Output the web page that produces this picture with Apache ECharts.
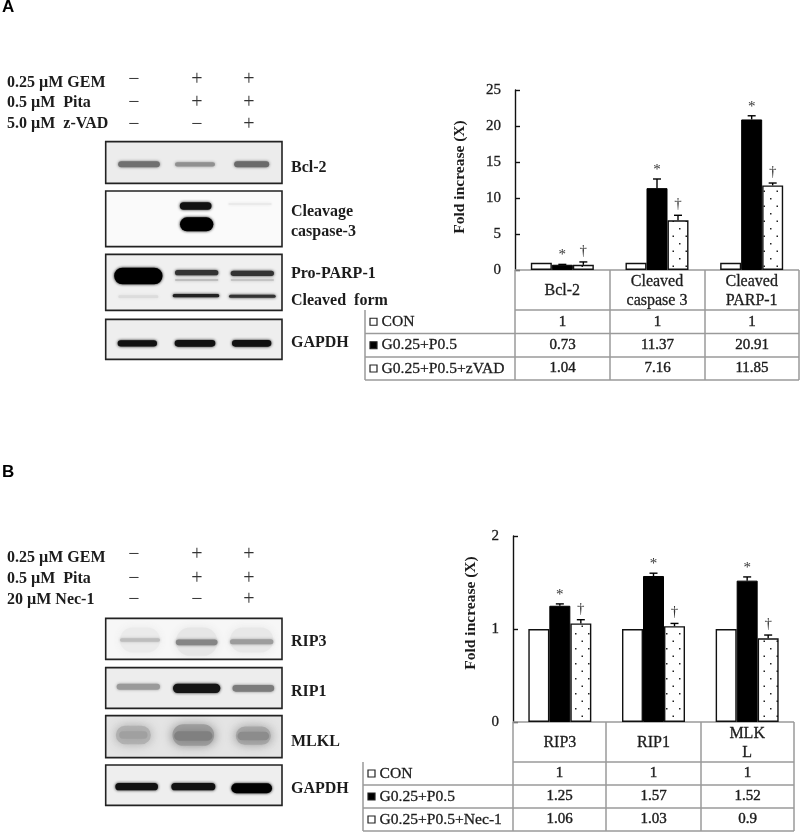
<!DOCTYPE html>
<html><head><meta charset="utf-8">
<style>html,body{margin:0;padding:0;background:#fff}#c{width:800px;height:832px}#c canvas{filter:blur(0.45px)}</style>
<script src="https://cdn.jsdelivr.net/npm/echarts@6/dist/echarts.min.js"></script>
</head><body><div id="c"></div>
<script>
// ---- data ----
const catsA = ['Bcl-2', 'Cleaved\ncaspase 3', 'Cleaved\nPARP-1'];
const conA = [1, 1, 1];
const gpA = [0.73, 11.37, 20.91];
const gpzA = [0.72, 6.9, 11.75];
const gpErrA = [0.78, 12.64, 21.42];
const gpzErrA = [1.12, 7.6, 12.08];
const tableRowsA = ['CON', 'G0.25+P0.5', 'G0.25+P0.5+zVAD'];
const tableA = [['1', '1', '1'], ['0.73', '11.37', '20.91'], ['1.04', '7.16', '11.85']];

const catsB = ['RIP3', 'RIP1', 'MLK\nL'];
const conB = [1, 1, 1];
const gpB = [1.25, 1.57, 1.52];
const gpnB = [1.06, 1.03, 0.9];
const gpErrB = [1.27, 1.6, 1.56];
const gpnErrB = [1.1, 1.06, 0.935];
const tableRowsB = ['CON', 'G0.25+P0.5', 'G0.25+P0.5+Nec-1'];
const tableB = [['1', '1', '1'], ['1.25', '1.57', '1.52'], ['1.06', '1.03', '0.9']];

const treatA = [['0.25 µM GEM', '−', '+', '+'], ['0.5 µM  Pita', '−', '+', '+'], ['5.0 µM  z-VAD', '−', '−', '+']];
const treatB = [['0.25 µM GEM', '−', '+', '+'], ['0.5 µM  Pita', '−', '+', '+'], ['20 µM Nec-1', '−', '−', '+']];

// ---- helpers ----
const SERIF = '"Liberation Serif", serif';
const INK = '#1c1c1c';
const g = [];
function text(x, y, s, size, opt) {
  opt = opt || {};
  g.push({type: 'text', x: x, y: y, silent: true, z: 5, style: {text: s, fill: opt.fill || INK,
    stroke: opt.thick ? (opt.fill || INK) : null, lineWidth: opt.thick || 0,
    font: (opt.weight || 'normal') + ' ' + size + 'px ' + (opt.family || SERIF),
    align: opt.align || 'left', verticalAlign: 'middle'}});
}
function line(x1, y1, x2, y2, color, w) {
  g.push({type: 'line', silent: true, z: 3, shape: {x1, y1, x2, y2}, style: {stroke: color, lineWidth: w}});
}
// dotted fill tile
const tile = document.createElement('canvas');
tile.width = 13; tile.height = 15;
(function () {
  const c = tile.getContext('2d');
  c.fillStyle = '#fff'; c.fillRect(0, 0, 13, 15);
  c.fillStyle = '#222';
  c.fillRect(3, 3, 1.5, 1.5); c.fillRect(9.5, 10.5, 1.5, 1.5);
})();

function blotPanel(y1, y2, bg, bands, oy) {
  // coordinates written in 3x crop units, as measured on the picture
  const X1 = 105.7, X2 = 282;
  const top = oy + y1 / 3, bottom = oy + y2 / 3;
  g.push({type: 'rect', silent: true, z: 1, shape: {x: X1, y: top, width: X2 - X1, height: bottom - top},
    style: {fill: bg, stroke: 'none'}});
  bands.forEach(b => {
    const w = b[2] / 3, h = b[3] / 3;
    g.push({type: 'rect', silent: true, z: 2,
      shape: {x: b[0] / 3 - w / 2, y: oy + b[1] / 3 - h / 2, width: w, height: h, r: Math.min(w, h) / 2},
      style: {fill: b[4], shadowBlur: b[5] === undefined ? 3 : b[5], shadowColor: b[4]}});
  });
  g.push({type: 'rect', silent: true, z: 3, shape: {x: X1, y: top, width: X2 - X1, height: bottom - top},
    style: {fill: 'none', stroke: '#222', lineWidth: 1.6}});
}
function treatments(rows, ys, signYs) {
  rows.forEach((r, i) => {
    text(7, ys[i], r[0], 16, {weight: 'bold'});
    [134, 197, 249].forEach((x, k) => text(x, signYs[i], r[k + 1], 20, {align: 'center', fill: '#333'}));
  });
}
function dataTable(x0, xs, ys, rows, vals) {
  const c = '#9a9a9a', w = 1.5;
  line(xs[0], ys[0], xs[3], ys[0], c, w);
  line(xs[0], ys[1], xs[3], ys[1], c, w);
  for (let i = 2; i < 5; i++) line(x0, ys[i], xs[3], ys[i], c, w);
  line(x0, ys[1], x0, ys[4], c, w);
  xs.forEach(x => line(x, ys[0], x, ys[4], c, w));
  rows.forEach((r, i) => {
    const cy = (ys[i + 1] + ys[i + 2]) / 2;
    g.push({type: 'rect', silent: true, z: 5, shape: {x: x0 + 5, y: cy - 3.5, width: 7, height: 7},
      style: {fill: i === 1 ? '#000' : '#fff', stroke: '#222', lineWidth: 1.2}});
    text(x0 + 16.5, cy, r, 15.6, {thick: 0.3});
    vals[i].forEach((v, k) => text((xs[k] + xs[k + 1]) / 2, cy, v, 15, {align: 'center', thick: 0.4}));
  });
}

// ---- static figure parts ----
text(2, 7, 'A', 17, {weight: 'bold', family: '"Liberation Sans", sans-serif', fill: '#000'});
text(2, 472, 'B', 17, {weight: 'bold', family: '"Liberation Sans", sans-serif', fill: '#000'});

treatments(treatA, [83, 103, 124], [80, 103, 125]);
treatments(treatB, [558, 579, 600], [555, 579, 600]);

blotPanel(245, 370, '#ececec', [
  [417, 313, 125, 18, '#707070'], [585, 313, 120, 13, '#909090'], [755, 313, 105, 18, '#6a6a6a']], 60);
blotPanel(393, 560, '#fafafa', [
  [587, 438, 95, 22, '#111'], [590, 493, 100, 42, '#000'], [750, 432, 130, 6, '#eaeaea']], 60);
blotPanel(583, 751, '#f0f0f0', [
  [415, 648, 145, 50, '#000'], [590, 660, 130, 6, '#bdbdbd'], [757, 660, 130, 6, '#c4c4c4'],
  [590, 638, 130, 16, '#333'], [757, 640, 130, 16, '#333'],
  [588, 707, 140, 10, '#222'], [757, 709, 140, 9, '#333'], [415, 710, 120, 8, '#dcdcdc']], 60);
blotPanel(778, 898, '#eeeeee', [
  [412, 850, 118, 19, '#111'], [585, 850, 122, 20, '#111'], [755, 850, 118, 20, '#111']], 60);

blotPanel(250, 373, '#f7f7f7', [
  [420, 315, 120, 75, '#ebebeb', 8], [590, 320, 125, 85, '#e6e6e6', 8], [755, 315, 130, 75, '#e8e8e8', 8],
  [420, 315, 120, 10, '#bdbdbd'], [590, 322, 125, 17, '#858585'], [755, 320, 130, 15, '#9c9c9c']], 535);
blotPanel(398, 520, '#ededed', [
  [415, 455, 130, 18, '#9a9a9a'], [590, 460, 142, 28, '#151515'], [760, 460, 125, 20, '#7c7c7c']], 535);
blotPanel(542, 668, '#e4e4e4', [
  [400, 600, 105, 55, '#b4b4b4', 12], [580, 600, 125, 65, '#a0a0a0', 12], [760, 602, 105, 55, '#acacac', 12],
  [400, 600, 85, 22, '#a0a0a0', 10], [580, 603, 115, 28, '#808080', 10], [760, 603, 95, 26, '#8c8c8c', 10]], 535);
blotPanel(690, 811, '#eeeeee', [
  [410, 755, 128, 22, '#111'], [580, 755, 132, 22, '#111'], [755, 760, 122, 30, '#000']], 535);

[[168, 'Bcl-2'], [212, 'Cleavage'], [232, 'caspase-3'], [274, 'Pro-PARP-1'], [301, 'Cleaved  form'], [343, 'GAPDH'],
 [642, 'RIP3'], [692, 'RIP1'], [742, 'MLKL'], [789, 'GAPDH']].forEach(l => text(291, l[0], l[1], 16, {weight: 'bold'}));

dataTable(365, [515, 610, 705, 799], [270, 310, 333.5, 357, 380], tableRowsA, tableA);
dataTable(363, [513, 606, 701, 794], [722, 762, 785, 808, 831], tableRowsB, tableB);

// ---- chart series ----
function bars(name, vals, idx, style) {
  return {type: 'bar', name, data: vals, xAxisIndex: idx, yAxisIndex: idx, barWidth: 21, barGap: 0, z: 3, itemStyle: style};
}
const styleCon = {color: '#fff', borderColor: '#111', borderWidth: 1.4};
const styleGp = {color: '#000', borderColor: '#000', borderWidth: 1};
const styleDot = {color: {image: tile, repeat: 'repeat'}, borderColor: '#111', borderWidth: 1.4};

function errors(name, base, tops, idx, shift, mark, markGap) {
  return {type: 'custom', name, xAxisIndex: idx, yAxisIndex: idx, z: 4, silent: true,
    data: tops.map((t, i) => [i, base[i], t]),
    encode: {x: 0, y: 2},
    renderItem: function (params, api) {
      const i = api.value(0);
      const a = api.coord([i, api.value(1)]), b = api.coord([i, api.value(2)]);
      const x = a[0] + shift;
      const st = {stroke: '#000', lineWidth: 1.4};
      return {type: 'group', children: [
        {type: 'line', shape: {x1: x, y1: a[1], x2: x, y2: b[1]}, style: st},
        {type: 'line', shape: {x1: x - 4, y1: b[1], x2: x + 4, y2: b[1]}, style: st},
        {type: 'text', style: {x: x, y: b[1] - markGap, text: mark, fill: '#333',
          font: '15px ' + SERIF, align: 'center', verticalAlign: 'middle'}}
      ]};
    }};
}
function yAxis(idx, max, interval, name, gap, padding) {
  return {type: 'value', gridIndex: idx, min: 0, max, interval, name, nameLocation: 'middle', nameGap: gap,
    nameTextStyle: {fontFamily: SERIF, fontWeight: 'bold', fontSize: 15.5, color: INK, padding},
    axisLine: {show: true, lineStyle: {color: '#111', width: 1.4}},
    axisTick: {show: true, inside: true, length: 5, lineStyle: {color: '#111', width: 1.4}},
    axisLabel: {fontFamily: SERIF, fontSize: 15, color: INK, margin: 14, textBorderColor: INK, textBorderWidth: 0.3},
    splitLine: {show: false}};
}
function xAxis(idx, cats) {
  return {type: 'category', gridIndex: idx, data: cats,
    axisLine: {show: false}, axisTick: {show: false},
    axisLabel: {fontFamily: SERIF, fontSize: 16, color: INK, margin: 21, lineHeight: 19, verticalAlign: 'middle',
      interval: 0, textBorderColor: INK, textBorderWidth: 0.3}};
}

const option = {
  animation: false,
  backgroundColor: '#fff',
  grid: [
    {left: 515, top: 90, width: 284, height: 180},
    {left: 513, top: 536, width: 281, height: 186}
  ],
  xAxis: [xAxis(0, catsA), xAxis(1, catsB)],
  yAxis: [yAxis(0, 25, 5, 'Fold increase (X)', 47, [0, 0, 0, 6]), yAxis(1, 2, 1, 'Fold increase (X)', 34, [0, 0, 0, 32])],
  series: [
    bars('CON', conA, 0, styleCon), bars('G0.25+P0.5', gpA, 0, styleGp), bars('G0.25+P0.5+zVAD', gpzA, 0, styleDot),
    errors('errA1', gpA, gpErrA, 0, 0, '*', 9), errors('errA2', gpzA, gpzErrA, 0, 21, '†', 11),
    bars('CON', conB, 1, styleCon), bars('G0.25+P0.5', gpB, 1, styleGp), bars('G0.25+P0.5+Nec-1', gpnB, 1, styleDot),
    errors('errB1', gpB, gpErrB, 1, 0, '*', 9), errors('errB2', gpnB, gpnErrB, 1, 21, '†', 11)
  ],
  graphic: {elements: g}
};
echarts.init(document.getElementById('c'), null, {renderer: 'canvas'}).setOption(option);
</script>
</body></html>
